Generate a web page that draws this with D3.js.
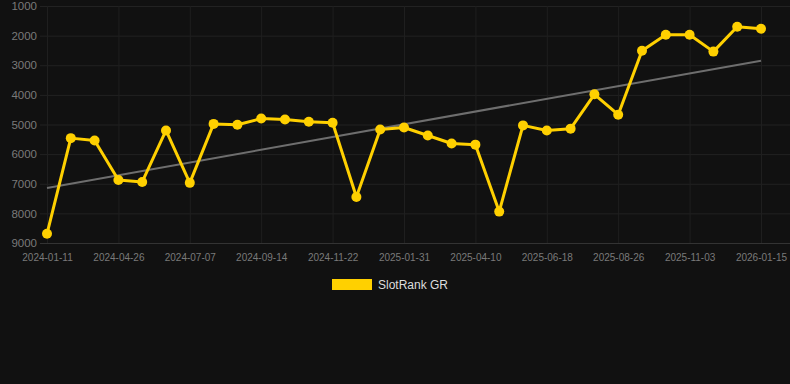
<!DOCTYPE html>
<html>
<head>
<meta charset="utf-8">
<script src="https://cdn.jsdelivr.net/npm/d3@7"></script>
<style>
  html, body { margin: 0; padding: 0; background: #111111; }
  svg { display: block; font-family: "Liberation Sans", Arial, sans-serif; }
</style>
</head>
<body>
<svg id="chart" width="790" height="384"></svg>
<script>
// dates of each point (only every third one is labelled)
const dates = [
	"2024-01-11","2024-02-15","2024-03-21","2024-04-26","2024-05-20","2024-06-13",
	"2024-07-07","2024-07-30","2024-08-22","2024-09-14","2024-10-07","2024-10-30",
	"2024-11-22","2024-12-15","2025-01-08","2025-01-31","2025-02-23","2025-03-18",
	"2025-04-10","2025-05-03","2025-05-26","2025-06-18","2025-07-11","2025-08-03",
	"2025-08-26","2025-09-18","2025-10-11","2025-11-03","2025-11-27","2025-12-22",
	"2026-01-15"
];
const ranks = [
	8690, 5460, 5540, 6875, 6940, 5200,
	6970, 4980, 5010, 4800, 4830, 4910,
	4940, 7450, 5170, 5100, 5370, 5640,
	5680, 7940, 5030, 5200, 5140, 3980,
	4670, 2510, 1970, 1970, 2540, 1700,
	1765
];
// trend line, first and last value
const trendDates = ["2024-01-11", "2026-01-15"];
const trendValues = [7140, 2845];
const yTicks = [1000, 2000, 3000, 4000, 5000, 6000, 7000, 8000, 9000];
const xTickLabels = dates.filter((d, i) => i % 3 === 0);
const seriesName = "SlotRank GR";

const svg = d3.select("#chart");
const W = 790;
const plotLeft = 40, plotTop = 6, plotBottom = 243;

const x = d3.scalePoint().domain(dates).range([47, 761]);
const y = d3.scaleLinear().domain([1000, 9000]).range([plotTop, plotBottom]);

// horizontal grid + y labels
const yAxis = svg.append("g")
	.attr("transform", `translate(${plotLeft},0)`)
	.call(d3.axisLeft(y).tickValues(yTicks).tickSize(-(W - plotLeft)).tickFormat(d3.format("d")).tickPadding(3));
yAxis.select(".domain").remove();
yAxis.selectAll(".tick line").attr("stroke", (d) => d === 9000 ? "#333" : "#222");
yAxis.selectAll(".tick text").attr("fill", "#7a7a7a").attr("font-size", 11.5);

// vertical grid + x labels
const xAxis = svg.append("g")
	.attr("transform", `translate(0,${plotBottom})`)
	.call(d3.axisBottom(x).tickValues(xTickLabels).tickSize(-(plotBottom - plotTop)).tickPadding(11));
xAxis.select(".domain").remove();
xAxis.selectAll(".tick line").attr("stroke", "#1f1f1f");
xAxis.selectAll(".tick text").attr("fill", "#7a7a7a").attr("font-size", 10);

const line = d3.line().x((p) => x(p.d)).y((p) => y(p.v));

// trend
const trend = trendDates.map((d, i) => ({ d: d, v: trendValues[i] }));
svg.append("path")
	.attr("d", line(trend))
	.attr("stroke", "#6e6e6e")
	.attr("stroke-width", 2)
	.attr("fill", "none");

// rank line
const pts = dates.map((d, i) => ({ d: d, v: ranks[i] }));
svg.append("path")
	.attr("d", line(pts))
	.attr("stroke", "#ffd000")
	.attr("stroke-width", 3)
	.attr("stroke-linejoin", "round")
	.attr("fill", "none");

svg.append("g")
	.attr("fill", "#ffd000")
	.selectAll("circle")
	.data(pts)
	.join("circle")
	.attr("cx", (p) => x(p.d))
	.attr("cy", (p) => y(p.v))
	.attr("r", 5);

// legend
const legend = svg.append("g").attr("transform", "translate(332,279)");
legend.append("rect").attr("width", 40).attr("height", 11).attr("fill", "#ffd000");
legend.append("text")
	.attr("x", 46).attr("y", 10)
	.attr("fill", "#dddddd")
	.attr("font-size", 12)
	.text(seriesName);
</script>
</body>
</html>
